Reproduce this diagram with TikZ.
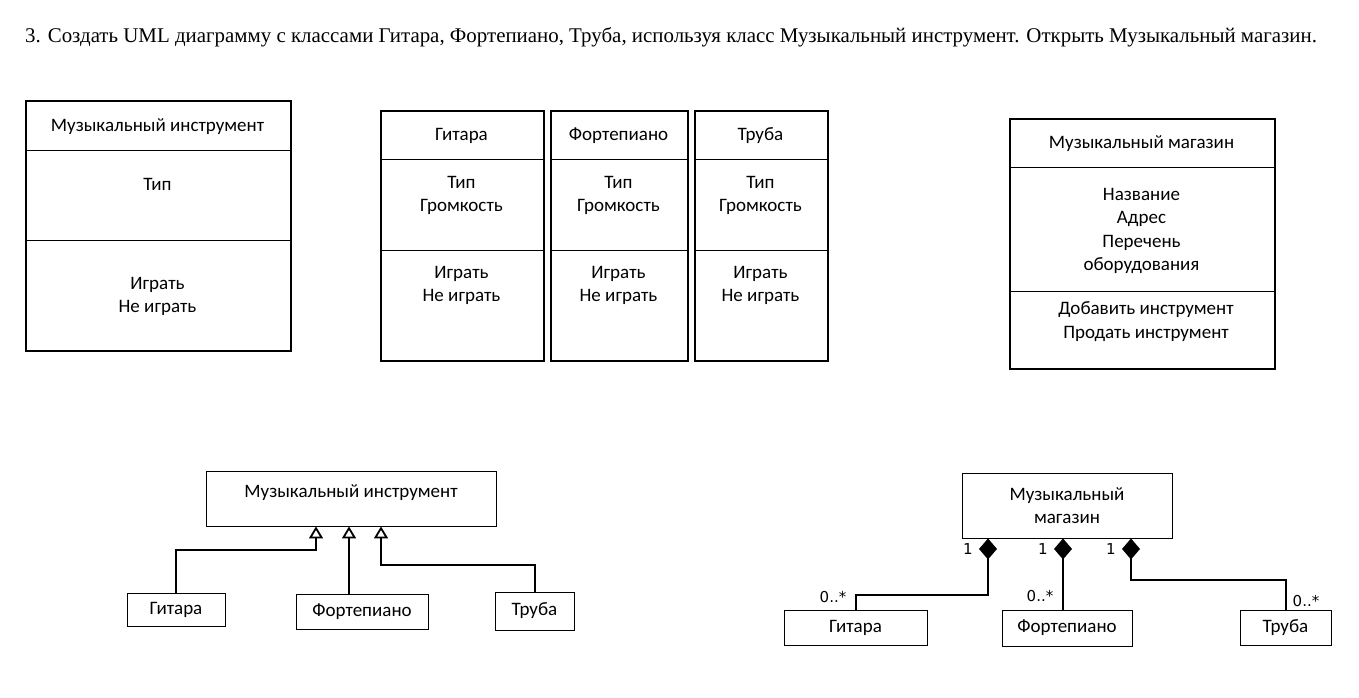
\documentclass[tikz,border=0pt]{standalone}
\usepackage{fontspec}
\setmainfont{Liberation Serif}
\newfontfamily\boxfont{Carlito}
\newfontfamily\numfont{DejaVu Sans}
\usetikzlibrary{arrows.meta}

\begin{document}
\begin{tikzpicture}[x=1pt,y=-1pt,
  clsbox/.style={draw,line width=1.8pt,anchor=north west,inner sep=0pt},
  smallbox/.style={draw,line width=0.9pt,inner sep=0pt},
  txt/.style={font=\boxfont\fontsize{19}{23.5}\selectfont,align=center,inner sep=0pt},
  lbl/.style={txt,yshift=-2pt},
  mult/.style={font=\numfont\fontsize{15}{16}\selectfont,inner sep=0pt},
  gen/.style={line width=2pt,-{Triangle[open,length=12pt,width=14pt,line width=1.8pt]}},
  comp/.style={line width=2pt,-{Diamond[length=21pt,width=18pt]}}]
\useasboundingbox (0,0) rectangle (1359,697);

% title
\node[anchor=base west,inner sep=0pt,font=\fontsize{20.9}{24}\selectfont] (title) at (25,42)
  {3. Создать UML диаграмму с классами Гитара, Фортепиано, Труба, используя класс Музыкальный инструмент. Открыть Музыкальный магазин.};

% class boxes
\node[clsbox,minimum width=265,minimum height=250] (instr) at (25,100) {};
\draw[line width=0.9pt] (25,150) -- (290,150);
\draw[line width=0.9pt] (25,240) -- (290,240);
\node[lbl] (instrName) at (157.5,125) {Музыкальный инструмент};
\node[lbl] (instrAttr) at (157.5,182) {Тип};
\node[lbl] (instrOps) at (157.5,294.5) {Играть\\Не играть};

\node[clsbox,minimum width=163,minimum height=250] (guitar) at (380,110) {};
\draw[line width=0.9pt] (380,159) -- (543,159);
\draw[line width=0.9pt] (380,250) -- (543,250);
\node[lbl] (guitarName) at (461.5,134) {Гитара};
\node[lbl] (guitarAttr) at (461.5,193.5) {Тип\\Громкость};
\node[lbl] (guitarOps) at (461.5,283.5) {Играть\\Не играть};

\node[clsbox,minimum width=137,minimum height=250] (piano) at (550,110) {};
\draw[line width=0.9pt] (550,159) -- (687,159);
\draw[line width=0.9pt] (550,250) -- (687,250);
\node[lbl] (pianoName) at (618.5,134) {Фортепиано};
\node[lbl] (pianoAttr) at (618.5,193.5) {Тип\\Громкость};
\node[lbl] (pianoOps) at (618.5,283.5) {Играть\\Не играть};

\node[clsbox,minimum width=133,minimum height=250] (trumpet) at (694,110) {};
\draw[line width=0.9pt] (694,159) -- (827,159);
\draw[line width=0.9pt] (694,250) -- (827,250);
\node[lbl] (trumpetName) at (760.5,134) {Труба};
\node[lbl] (trumpetAttr) at (760.5,193.5) {Тип\\Громкость};
\node[lbl] (trumpetOps) at (760.5,283.5) {Играть\\Не играть};

\node[clsbox,minimum width=265,minimum height=250] (shop) at (1009,118) {};
\draw[line width=0.9pt] (1009,167) -- (1274,167);
\draw[line width=0.9pt] (1009,291) -- (1274,291);
\node[lbl] (shopName) at (1141.5,142) {Музыкальный магазин};
\node[lbl] (shopAttr) at (1141.5,229) {Название\\Адрес\\Перечень\\оборудования};
\node[lbl] (shopOps) at (1146,319.5) {Добавить инструмент\\Продать инструмент};

% inheritance
\node[smallbox,minimum width=290,minimum height=55] (bi) at (351,498.5) {};
\node[lbl] (biName) at (351,491) {Музыкальный инструмент};
\node[smallbox,txt,minimum width=98,minimum height=33] (bg) at (176,609.5) {Гитара};
\node[smallbox,txt,minimum width=132,minimum height=35] (bp) at (362,611.5) {Фортепиано};
\node[smallbox,txt,minimum width=79,minimum height=38] (bt) at (534.5,611) {Труба};
\draw[gen] (bg.north) -- ++(0,-43) -| ([xshift=-35pt]bi.south);
\draw[gen] ([xshift=-13pt]bp.north) -- ([xshift=-2pt]bi.south);
\draw[gen] (bt.north) -- ++(0,-27) -| ([xshift=30pt]bi.south);

% composition
\node[smallbox,txt,minimum width=210,minimum height=65] (ms) at (1067,505.5) {Музыкальный\\магазин};
\node[smallbox,txt,minimum width=143,minimum height=35] (mg) at (855.5,627.5) {Гитара};
\node[smallbox,txt,minimum width=130,minimum height=36] (mp) at (1067,628) {Фортепиано};
\node[smallbox,txt,minimum width=91,minimum height=35] (mt) at (1285.5,627.5) {Труба};
\draw[comp] (mg.north) -- ++(0,-15) -| ([xshift=-79pt]ms.south);
\draw[comp] ([xshift=-4pt]mp.north) -- ([xshift=-4pt]ms.south);
\draw[comp] (mt.north) -- ++(0,-30) -| ([xshift=64pt]ms.south);
\node[mult] (m1) at (968,549) {1};
\node[mult] (m2) at (1043,549) {1};
\node[mult] (m3) at (1111,549) {1};
\node[mult] (n1) at (833,597) {0..*};
\node[mult] (n2) at (1040,596) {0..*};
\node[mult] (n3) at (1306,601) {0..*};
\end{tikzpicture}
\end{document}
